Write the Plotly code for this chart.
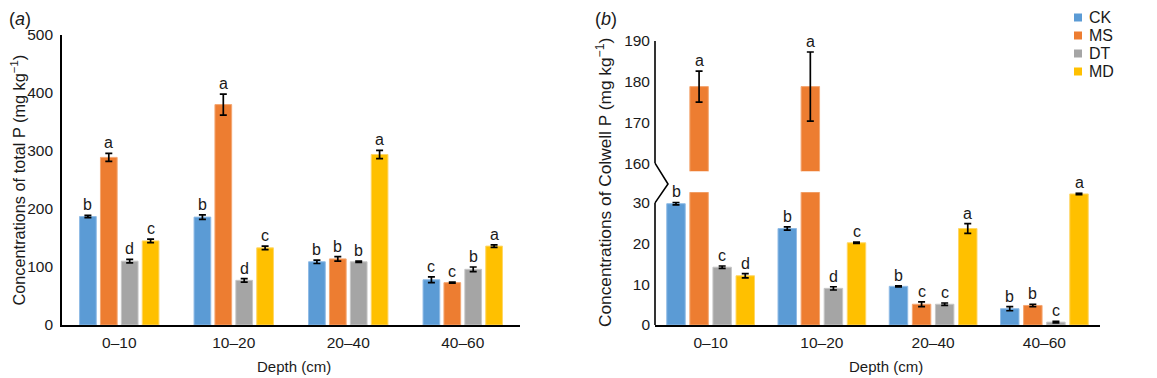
import plotly.graph_objects as go

W, H = 1157, 378          # browser window
OX, OY = 8, 8             # page body margin in front of the figure
FW, FH = W - OX, H - OY   # figure size
FONT = "Arial, 'Liberation Sans', sans-serif"
TXT = "#1a1a1a"

depths = ["0–10", "10–20", "20–40", "40–60"]
treatments = ["CK", "MS", "DT", "MD"]
colors = ["#5B9BD5", "#ED7D31", "#A5A5A5", "#FFC000"]
edge_colors = ["#8FBBE6", "#F4A772", "#C6C6C6", "#FFD766"]

# (a) total P, mg/kg
tp_ck = [187, 186, 109, 78]
tp_ms = [289, 380, 114, 73]
tp_dt = [110, 77, 109, 96]
tp_md = [145, 133, 294, 136]
tp_ck_err = [2, 4, 3, 5]
tp_ms_err = [7, 18, 4, 1]
tp_dt_err = [3, 3, 1, 4]
tp_md_err = [3, 3, 7, 2]
tp_ck_let = ["b", "b", "b", "c"]
tp_ms_let = ["a", "a", "b", "c"]
tp_dt_let = ["d", "d", "b", "b"]
tp_md_let = ["c", "c", "a", "a"]

# (b) Colwell P, mg/kg
cp_ck = [29.8, 23.7, 9.5, 4.0]
cp_ms = [178.8, 178.8, 5.1, 4.8]
cp_dt = [14.2, 9.0, 5.1, 0.7]
cp_md = [12.1, 20.2, 23.7, 32.2]
cp_ck_err = [0.3, 0.4, 0.15, 0.5]
cp_ms_err = [3.8, 8.5, 0.6, 0.3]
cp_dt_err = [0.3, 0.4, 0.3, 0.2]
cp_md_err = [0.5, 0.15, 1.2, 0.2]
cp_ck_let = ["b", "b", "b", "b"]
cp_ms_let = ["a", "a", "c", "b"]
cp_dt_let = ["c", "d", "c", "c"]
cp_md_let = ["d", "c", "a", "a"]

tp_vals = [tp_ck, tp_ms, tp_dt, tp_md]
tp_errs = [tp_ck_err, tp_ms_err, tp_dt_err, tp_md_err]
tp_lets = [tp_ck_let, tp_ms_let, tp_dt_let, tp_md_let]
cp_vals = [cp_ck, cp_ms, cp_dt, cp_md]
cp_errs = [cp_ck_err, cp_ms_err, cp_dt_err, cp_md_err]
cp_lets = [cp_ck_let, cp_ms_let, cp_dt_let, cp_md_let]

# axis break for panel b
LOW_MAX = 32.6
HIGH_MIN = 158
HIGH_MAX = 190


# geometry (styling): window pixels -> paper fractions
def px(x):
    return (x - OX) / FW


def py(y):
    return (FH - (y - OY)) / FH


PPU = 4.07  # px per unit on panel b
Y0 = py(325)
L_TOP = py(35)
R_LOW_TOP = py(325 - LOW_MAX * PPU)
R_HIGH_TOP = py(41)
R_HIGH_BOT = py(41 + (HIGH_MAX - HIGH_MIN) * PPU)
XA = [px(62), px(520)]
XB = [px(655), px(1100)]

GAP_A, GGAP = 0.27, 0.2
GAP_B = 0.17


def bar_geom(j, gap):
    slot = (1 - gap) / 4
    off = -(1 - gap) / 2 + slot * j + slot * GGAP / 2
    width = slot * (1 - GGAP)
    return off, width, off + width / 2


fig = go.Figure()
annotations = []
shapes = []
err_style = dict(color="black", thickness=1.7, width=3.5)
letter_font = dict(family=FONT, size=16, color=TXT)

# panel a
for j, t in enumerate(treatments):
    off, wd, cen = bar_geom(j, GAP_A)
    fig.add_trace(go.Bar(
        x=depths, y=tp_vals[j], name=t, marker_color=colors[j],
        marker_line=dict(width=1, color=edge_colors[j]), offset=off, width=wd,
        error_y=dict(type="data", array=tp_errs[j], **err_style),
        xaxis="x", yaxis="y", showlegend=False,
    ))
    for i in range(len(depths)):
        annotations.append(dict(
            x=i + cen, y=tp_vals[j][i] + tp_errs[j][i], xref="x", yref="y",
            text=tp_lets[j][i], showarrow=False, xanchor="center",
            yanchor="bottom", yshift=0, font=letter_font,
        ))

# panel b (lower and upper segments of the broken axis)
for j, t in enumerate(treatments):
    off, wd, cen = bar_geom(j, GAP_B)
    for yax in ("y2", "y3"):
        fig.add_trace(go.Bar(
            x=depths, y=cp_vals[j], name=t, marker_color=colors[j],
            marker_line=dict(width=1, color=edge_colors[j]), offset=off, width=wd,
            error_y=dict(type="data", array=cp_errs[j], **err_style),
            xaxis="x2", yaxis=yax, showlegend=False, legendgroup=t,
        ))
    for i in range(len(depths)):
        top = cp_vals[j][i] + cp_errs[j][i]
        high = cp_vals[j][i] > LOW_MAX
        annotations.append(dict(
            x=i + cen, y=top, xref="x2", yref="y3" if high else "y2",
            text=cp_lets[j][i], showarrow=False, xanchor="center",
            yanchor="bottom", yshift=0, font=letter_font,
        ))

# legend (top right of panel b)
LEG_Y = [17.5, 35.5, 53.5, 71.5]
for j, t in enumerate(treatments):
    yc = LEG_Y[j]
    shapes.append(dict(type="rect", xref="paper", yref="paper",
                       x0=px(1074), x1=px(1082), y0=py(yc + 4), y1=py(yc - 4),
                       fillcolor=colors[j], line=dict(width=0)))
    annotations.append(dict(x=px(1088), y=py(yc), xref="paper", yref="paper",
                            text=t, showarrow=False, xanchor="left", yanchor="middle",
                            borderpad=0, font=dict(family=FONT, size=16, color=TXT)))

axis_font = dict(family=FONT, size=15, color=TXT)
ytitle_font = dict(family=FONT, size=16.3, color=TXT)
rtitle_font = dict(family=FONT, size=17.3, color=TXT)
panel_font = dict(family=FONT, size=18, color=TXT)
annotations += [
    dict(x=px(18.5), y=py(180), xref="paper", yref="paper", textangle=-90,
         xanchor="center", yanchor="middle", borderpad=0,
         text="Concentrations of total P (mg kg<sup>−1</sup>)", showarrow=False,
         font=ytitle_font),
    dict(x=px(604), y=py(183), xref="paper", yref="paper", textangle=-90,
         xanchor="center", yanchor="middle", borderpad=0,
         text="Concentrations of Colwell P (mg kg<sup>−1</sup>)", showarrow=False,
         font=rtitle_font),
    dict(x=px(294), y=py(366), xref="paper", yref="paper", text="Depth (cm)",
         xanchor="center", yanchor="middle", showarrow=False, font=axis_font),
    dict(x=px(886), y=py(366), xref="paper", yref="paper", text="Depth (cm)",
         xanchor="center", yanchor="middle", showarrow=False, font=axis_font),
    dict(x=px(8), y=py(8), xref="paper", yref="paper", xanchor="left", yanchor="top",
         borderpad=0, text="(<i>a</i>)", showarrow=False, font=panel_font),
    dict(x=px(594), y=py(8), xref="paper", yref="paper", xanchor="left", yanchor="top",
         borderpad=0, text="(<i>b</i>)", showarrow=False, font=panel_font),
]

LINE = dict(color="black", width=1.6)
shapes += [
    dict(type="line", xref="x2 domain", yref="y2", x0=0, x1=0, y0=0, y1=30, line=LINE),
    dict(type="line", xref="x2 domain", yref="y3", x0=0, x1=0, y0=160, y1=190, line=LINE),
]
# zigzag break mark on the y axis of panel b
y30 = Y0 + 30 / LOW_MAX * (R_LOW_TOP - Y0)
y160 = R_HIGH_BOT + (160 - HIGH_MIN) / (HIGH_MAX - HIGH_MIN) * (R_HIGH_TOP - R_HIGH_BOT)
xa, xt, yt = XB[0], px(668), py(184)
shapes.append(dict(type="path", xref="paper", yref="paper",
                   path=f"M{xa},{y30} L{xt},{yt} L{xa},{y160}", line=LINE))

tick_font = dict(family=FONT, size=15.5, color=TXT)
common_y = dict(showgrid=False, zeroline=False, ticks="", tickfont=tick_font,
                ticklabelstandoff=4, automargin=False)
common_x = dict(showgrid=False, zeroline=False, ticks="", tickfont=tick_font,
                type="category", range=[-0.5, 3.5], showline=True,
                linecolor="black", linewidth=1.6, ticklabelstandoff=3,
                automargin=False)

fig.update_layout(
    template="none",
    width=FW, height=FH, autosize=False,
    margin=dict(l=0, r=0, t=0, b=0, pad=0, autoexpand=False),
    paper_bgcolor="white", plot_bgcolor="rgba(0,0,0,0)",
    barmode="overlay", showlegend=False,
    font=dict(family=FONT, color=TXT, size=15),
    xaxis=dict(domain=XA, anchor="y", **common_x),
    yaxis=dict(domain=[Y0, L_TOP], anchor="x", range=[0, 500],
               tickvals=[0, 100, 200, 300, 400, 500],
               showline=True, linecolor="black", linewidth=1.6, **common_y),
    xaxis2=dict(domain=XB, anchor="y2", **common_x),
    yaxis2=dict(domain=[Y0, R_LOW_TOP], anchor="x2", range=[0, LOW_MAX],
                tickvals=[0, 10, 20, 30], showline=False, **common_y),
    yaxis3=dict(domain=[R_HIGH_BOT, R_HIGH_TOP], anchor="x2", range=[HIGH_MIN, HIGH_MAX],
                tickvals=[160, 170, 180, 190], showline=False, **common_y),
    annotations=annotations,
    shapes=shapes,
)

fig.write_html("out.html")
